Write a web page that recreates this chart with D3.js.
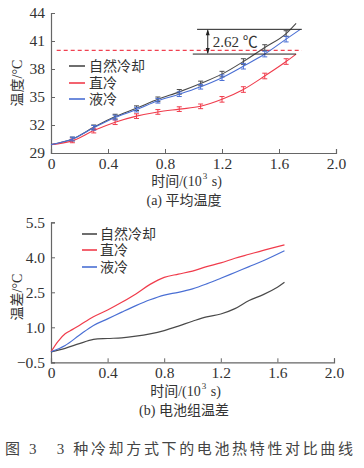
<!DOCTYPE html>
<html><head><meta charset="utf-8">
<script src="https://cdn.jsdelivr.net/npm/d3@7"></script>
<style>
body{margin:0;background:#fff;}
text{font-family:"Liberation Serif","Noto Sans CJK SC",serif;fill:#333;}
</style></head>
<body><svg id="c" width="364" height="468"></svg>
<script>
// ---- data: (a) average temperature ----
const seriesNames = ["自然冷却", "直冷", "液冷"];
const seriesColors = ["#4a4a4a", "#f03c4c", "#4a6fd4"];
const tA = [0, 0.15, 0.3, 0.45, 0.6, 0.75, 0.9, 1.05, 1.2, 1.35, 1.5, 1.65];
const natA = [29.9, 30.5, 31.75, 32.9, 33.8, 34.75, 35.55, 36.45, 37.45, 38.8, 40.3, 41.8];
const dirA = [29.9, 30.3, 31.4, 32.3, 32.95, 33.4, 33.7, 34.0, 34.75, 35.8, 37.25, 38.8];
const liqA = [29.9, 30.5, 31.7, 32.8, 33.65, 34.6, 35.3, 36.1, 37.07, 38.3, 39.6, 41.2];
const errA = [0, 0.2, 0.25, 0.25, 0.25, 0.25, 0.25, 0.25, 0.3, 0.3, 0.3, 0.3];
const endA = [[1.72, 42.9], [1.72, 39.6], [1.75, 42.25]];
const limitTemp = 40;
const diffLabel = "2.62 ℃";
const diffTop = 42.25, diffBottom = 39.6;
const xTicks = [0, 0.4, 0.8, 1.2, 1.6, 2.0];
const yTicksA = [29, 32, 35, 38, 41, 44];
// ---- data: (b) temperature difference ----
const tNat = [0, 0.1, 0.2, 0.3, 0.4, 0.5, 0.6, 0.7, 0.8, 0.9, 1.0, 1.1, 1.2, 1.3, 1.4, 1.5, 1.6, 1.65];
const natB = [-0.05, 0.1, 0.3, 0.48, 0.52, 0.55, 0.62, 0.72, 0.86, 1.05, 1.26, 1.45, 1.57, 1.8, 2.15, 2.4, 2.72, 2.93];
const tDir = [0, 0.05, 0.1, 0.15, 0.2, 0.3, 0.4, 0.5, 0.6, 0.7, 0.8, 0.9, 1.0, 1.1, 1.2, 1.3, 1.4, 1.5, 1.65];
const dirB = [-0.05, 0.4, 0.72, 0.9, 1.08, 1.45, 1.74, 2.07, 2.43, 2.84, 3.14, 3.28, 3.41, 3.6, 3.76, 3.96, 4.13, 4.3, 4.53];
const tLiq = [0, 0.1, 0.2, 0.3, 0.4, 0.5, 0.6, 0.7, 0.8, 0.9, 1.0, 1.1, 1.2, 1.3, 1.4, 1.5, 1.65];
const liqB = [-0.05, 0.22, 0.66, 1.08, 1.36, 1.65, 1.93, 2.18, 2.38, 2.5, 2.65, 2.86, 3.1, 3.35, 3.6, 3.85, 4.28];
const yTicksB = [-0.5, 1.0, 2.5, 4.0, 5.5];
const captionA = "(a) 平均温度";
const captionB = "(b) 电池组温差";
const figCaption = "图 3　3 种冷却方式下的电池热特性对比曲线";

const svg = d3.select("#c");
const axisColor = "#666";
const FONT = '"Liberation Serif","Noto Sans CJK SC",serif';

function drawFrame(g, x, y, yTicks, yFmt, yTitle, yTitleY, xTitleY, capY, cap) {
  const xAxis = d3.axisBottom(x).tickValues(xTicks).tickSize(-4).tickPadding(8)
    .tickFormat(d => d === 0 ? "0" : d3.format(".1f")(d));
  const gx = g.append("g").attr("transform", `translate(0,${y.range()[0]})`).call(xAxis);
  const yAxis = d3.axisLeft(y).tickValues(yTicks).tickSize(-4).tickPadding(6).tickFormat(yFmt);
  const gy = g.append("g").attr("transform", `translate(${x.range()[0]},0)`).call(yAxis);
  [gx, gy].forEach(a => {
    a.attr("font-family", null);
    a.select(".domain").attr("stroke", axisColor).attr("stroke-width", 1.2);
    a.selectAll(".tick line").attr("stroke", axisColor).attr("stroke-width", 1);
    a.selectAll("text").style("font-size", "15.5px").style("fill", "#333").style("font-family", "'Liberation Serif'");
  });
  gx.selectAll("text").attr("dy", "0.5em");
  // x title
  const xt = g.append("text").attr("x", (x.range()[0] + x.range()[1]) / 2 - 7).attr("y", xTitleY)
    .attr("text-anchor", "middle").style("font-size", "14px").style("font-family", FONT);
  xt.append("tspan").text("时间/(10");
  xt.append("tspan").text("3").style("font-size", "9px").attr("dy", -7).attr("dx", 1);
  xt.append("tspan").text(" s)").attr("dy", 7).attr("dx", 1);
  // y title
  g.append("text").attr("transform", `translate(22,${yTitleY}) rotate(-90)`)
    .attr("text-anchor", "middle").style("font-size", "14px").style("font-family", FONT).text(yTitle);
  g.append("text").attr("x", 184).attr("y", capY).attr("text-anchor", "middle")
    .style("font-size", "14px").style("font-family", FONT).text(cap);
}

// ---------- chart (a) ----------
const xA = d3.scaleLinear().domain([0, 2]).range([51, 336]);
const yA = d3.scaleLinear().domain([29, 44]).range([153, 13]);
const gA = svg.append("g");
drawFrame(gA, xA, yA, yTicksA, d3.format("d"), "温度/°C", 83, 186, 205, captionA);

// limit line
gA.append("line").attr("x1", xA(0.04)).attr("x2", xA(1.76)).attr("y1", yA(limitTemp)).attr("y2", yA(limitTemp))
  .attr("stroke", "#f04050").attr("stroke-width", 1.2).attr("stroke-dasharray", "4,3");

const dataA = [natA, dirA, liqA];
dataA.forEach((vals, i) => {
  const pts = tA.map((t, j) => [t, vals[j]]).concat([endA[i]]);
  gA.append("path").datum(pts).attr("fill", "none").attr("stroke", seriesColors[i]).attr("stroke-width", 1.1)
    .attr("d", d3.line().x(d => xA(d[0])).y(d => yA(d[1])).curve(d3.curveMonotoneX));
  tA.forEach((t, j) => {
    if (j === 0) return;
    const cx = xA(t), y1 = yA(vals[j] - errA[j]), y2 = yA(vals[j] + errA[j]);
    const eb = gA.append("g").attr("stroke", seriesColors[i]).attr("stroke-width", 1);
    eb.append("line").attr("x1", cx).attr("x2", cx).attr("y1", y1).attr("y2", y2);
    eb.append("line").attr("x1", cx - 2.5).attr("x2", cx + 2.5).attr("y1", y1).attr("y2", y1);
    eb.append("line").attr("x1", cx - 2.5).attr("x2", cx + 2.5).attr("y1", y2).attr("y2", y2);
  });
});

// annotation
gA.append("line").attr("x1", xA(1.025)).attr("x2", xA(1.76)).attr("y1", yA(diffTop)).attr("y2", yA(diffTop))
  .attr("stroke", "#222").attr("stroke-width", 1);
gA.append("line").attr("x1", xA(0.995)).attr("x2", xA(1.72)).attr("y1", yA(diffBottom)).attr("y2", yA(diffBottom))
  .attr("stroke", "#222").attr("stroke-width", 1);
const ax = xA(1.1);
gA.append("line").attr("x1", ax).attr("x2", ax).attr("y1", yA(diffTop) + 1).attr("y2", yA(diffBottom) - 1)
  .attr("stroke", "#222").attr("stroke-width", 1);
const ya1 = yA(diffTop), ya2 = yA(diffBottom);
gA.append("path").attr("d", `M${ax},${ya1} l-2,6 l4,0 Z M${ax},${ya2} l-2,-6 l4,0 Z`).attr("fill", "#222");
gA.append("text").attr("x", ax + 5).attr("y", (ya1 + ya2) / 2 + 5).style("font-size", "15px")
  .style("font-family", FONT).text(diffLabel);

// legend (a)
seriesNames.forEach((n, i) => {
  const ly = [66, 83, 99][i];
  gA.append("line").attr("x1", 69).attr("x2", 85).attr("y1", ly).attr("y2", ly)
    .attr("stroke", seriesColors[i]).attr("stroke-width", 1.6);
  gA.append("text").attr("x", 89).attr("y", ly + 5).style("font-size", "14px").style("font-family", FONT).text(n);
});

// ---------- chart (b) ----------
const xB = d3.scaleLinear().domain([0, 2]).range([51, 334]);
const yB = d3.scaleLinear().domain([-0.5, 5.5]).range([362.3, 222.3]);
const gB = svg.append("g");
drawFrame(gB, xB, yB, yTicksB, d => d < 0 ? "−0.5" : d3.format(".1f")(d), "温差/°C", 297, 396, 415, captionB);

const dataB = [[tNat, natB], [tDir, dirB], [tLiq, liqB]];
dataB.forEach(([ts, vs], i) => {
  gB.append("path").datum(ts.map((t, j) => [t, vs[j]])).attr("fill", "none")
    .attr("stroke", seriesColors[i]).attr("stroke-width", 1.2)
    .attr("d", d3.line().x(d => xB(d[0])).y(d => yB(d[1])).curve(d3.curveCatmullRom));
});
seriesNames.forEach((n, i) => {
  const ly = [234, 250, 267][i];
  gB.append("line").attr("x1", 82).attr("x2", 97).attr("y1", ly).attr("y2", ly)
    .attr("stroke", seriesColors[i]).attr("stroke-width", 1.6);
  gB.append("text").attr("x", 100).attr("y", ly + 5).style("font-size", "14px").style("font-family", FONT).text(n);
});

// figure caption
svg.append("text").attr("x", 5).attr("y", 454).style("font-size", "15px").style("fill", "#444")
  .style("font-family", FONT)
  .attr("textLength", 348).attr("lengthAdjust", "spacing").text(figCaption);
</script></body></html>
